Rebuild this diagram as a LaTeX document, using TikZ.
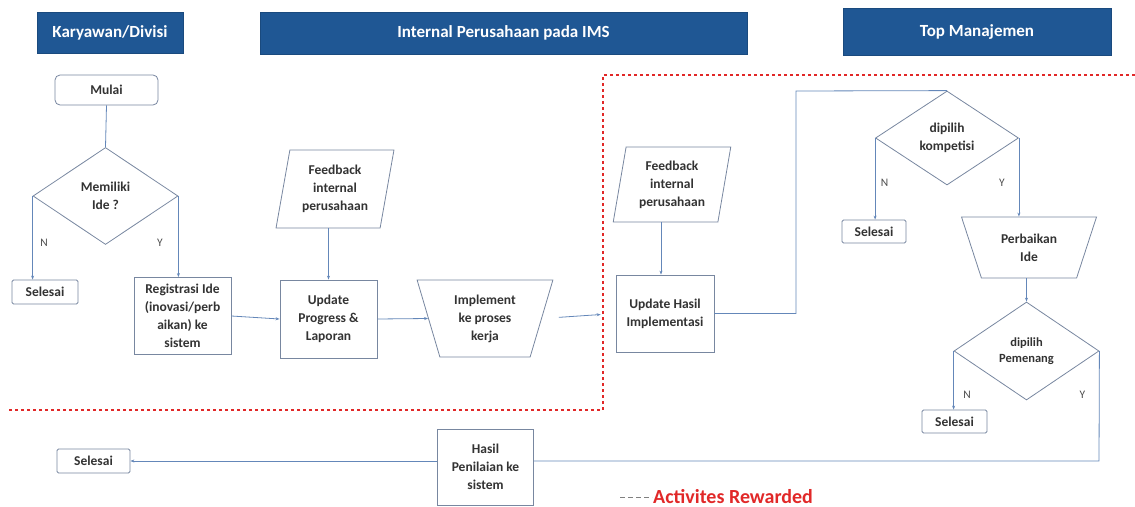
\documentclass[tikz,border=0pt]{standalone}
\usepackage{fontspec}
\setmainfont{Carlito}
\usetikzlibrary{shapes.geometric,arrows.meta,calc}
\definecolor{hdr}{RGB}{31,87,148}
\definecolor{edgec}{RGB}{120,135,160}
\definecolor{conn}{RGB}{100,135,185}
\definecolor{rew}{RGB}{225,40,40}
\begin{document}
\begin{tikzpicture}[x=1pt,y=-1pt,
  hdrbox/.style={fill=hdr, draw=hdr!85!black, text=white, font=\fontsize{17}{19}\selectfont\bfseries, inner sep=0pt},
  txt/.style={font=\fontsize{13.5}{18}\selectfont\bfseries, text=black!80, align=center, inner sep=0pt},
  procbox/.style={txt, draw=edgec, line width=0.8pt, fill=white},
  endbox/.style={procbox, rounded corners=1.5pt},
  decision/.style={procbox, shape=diamond},
  manop/.style={procbox, shape=trapezium, trapezium stretches=true, shape border rotate=180},
  iobox/.style={procbox, shape=trapezium, trapezium stretches=true},
  lbl/.style={font=\fontsize{11.5}{13}\selectfont, text=black!70, inner sep=0pt},
  link/.style={draw=conn, line width=0.8pt},
  arr/.style={link, -{Stealth[length=4pt,width=3pt]}},
  reward/.style={draw=rew, line width=1.2pt, dash pattern=on 3pt off 3pt}
]
\useasboundingbox (0,0) rectangle (1135,506);

% headers
\node[hdrbox, minimum width=146pt, minimum height=41pt] (h1) at (110,32.5) {Karyawan/Divisi};
\node[hdrbox, minimum width=487pt, minimum height=42pt] (h2) at (503.5,33) {Internal Perusahaan pada IMS};
\node[hdrbox, minimum width=268pt, minimum height=47pt] (h3) at (977,31.5) {Top Manajemen};

% rewarded region
\draw[reward] (1135,75) -- (603,75) -- (603,410) -- (8,410);

% nodes
\node[endbox, minimum width=103pt, minimum height=30pt, rounded corners=5pt] (mulai) at (106.5,90) {Mulai};
\node[decision, minimum width=145pt, minimum height=97pt] (d1) at (105.5,196) {Memiliki\\Ide ?};
\node[endbox, minimum width=66pt, minimum height=24pt] (sel1) at (45,292) {Selesai};
\node[procbox, minimum width=97pt, minimum height=77pt] (reg) at (182.5,316) {Registrasi Ide\\(inovasi/perb\\aikan) ke\\sistem};
\node[procbox, minimum width=97pt, minimum height=78pt] (upd) at (328.5,319) {Update\\Progress \&\\Laporan};
\node[iobox, trapezium left angle=78, trapezium right angle=102, minimum width=118pt, minimum height=78pt] (fb1) at (335,189) {Feedback\\internal\\perusahaan};
\node[manop, trapezium left angle=72, trapezium right angle=72, minimum width=136pt, minimum height=77pt] (impl) at (485,318.5) {Implement\\ke proses\\kerja};
\node[procbox, minimum width=98pt, minimum height=77pt] (uh) at (665,313.5) {Update Hasil\\Implementasi};
\node[iobox, trapezium left angle=79, trapezium right angle=101, minimum width=118pt, minimum height=75pt] (fb2) at (672,184.5) {Feedback\\internal\\perusahaan};
\node[decision, minimum width=143pt, minimum height=94pt] (d2) at (947,138) {dipilih\\kompetisi};
\node[endbox, minimum width=64pt, minimum height=23pt] (sel2) at (874,231.5) {Selesai};
\node[manop, trapezium left angle=67, trapezium right angle=67, minimum width=136pt, minimum height=61pt] (pb) at (1029,247.5) {Perbaikan\\Ide};
\node[decision, minimum width=145pt, minimum height=98pt, font=\fontsize{12.5}{16}\selectfont\bfseries] (d3) at (1026.5,351) {dipilih\\Pemenang};
\node[endbox, minimum width=65pt, minimum height=23pt] (sel3) at (954.5,421.5) {Selesai};
\node[procbox, minimum width=96pt, minimum height=76pt] (hasil) at (485.5,467) {Hasil\\Penilaian ke\\sistem};
\node[endbox, minimum width=73pt, minimum height=24pt] (sel4) at (93.5,461) {Selesai};

\coordinate (c1) at (796,91);
\coordinate (c2) at (1099,461);

% connectors
\draw[link] (mulai.south) -- (d1.north);
\draw[arr] (d1.west) -- (d1.west |- sel1.north);
\draw[arr] (d1.east) -- (d1.east |- reg.north);
\draw[arr] (reg.east) -- (upd.west);
\draw[arr] (upd.north |- fb1.south) -- (upd.north);
\draw[arr] (upd.east) -- (impl.west);
\draw[arr, shorten <=17pt, shorten >=15pt] (impl.east) -- (uh.west);
\draw[arr] ([xshift=-4pt]uh.north |- fb2.south) -- ([xshift=-4pt]uh.north);
\draw[link] (uh.east) -| (c1) -- (d2.north);
\draw[arr] (d2.west) -- (d2.west |- sel2.north);
\draw[arr] (d2.east) -- (d2.east |- pb.north);
\draw[arr] (d3.north |- pb.south) -- (d3.north);
\draw[arr] (d3.west) -- (d3.west |- sel3.north);
\draw[link] (d3.east) -- (c2) -- (c2 -| hasil.east);
\draw[arr] (c2 -| hasil.west) -- (c2 -| sel4.east);

% labels
\node[lbl] (n1) at (44,243) {N};
\node[lbl] (y1) at (160,243) {Y};
\node[lbl] (n2) at (884.5,183) {N};
\node[lbl] (y2) at (1002,183) {Y};
\node[lbl] (n3) at (967,395) {N};
\node[lbl] (y3) at (1082.5,395) {Y};

% legend
\coordinate (lg) at (620,497);
\draw[draw=black!50, line width=0.8pt, dash pattern=on 5pt off 3pt] (lg) -- ++(32,0) coordinate (lgend);
\node[anchor=base west, text=rew, font=\fontsize{20}{22}\selectfont\bfseries, inner sep=1pt] (leg) at ([yshift=-6pt]lgend) {Activites Rewarded};
\end{tikzpicture}
\end{document}
